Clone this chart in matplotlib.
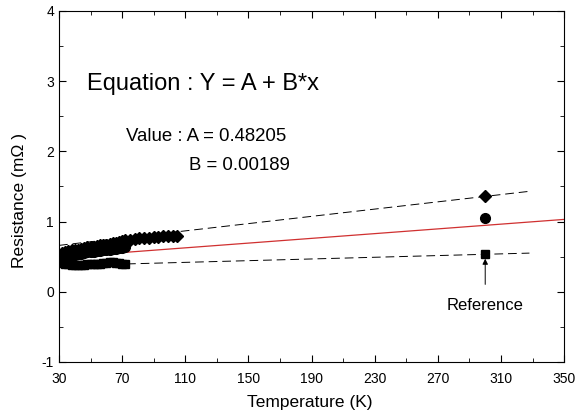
import matplotlib.pyplot as plt

plt.rcParams['font.family'] = ['Liberation Sans', 'DejaVu Sans']
plt.rcParams['axes.unicode_minus'] = False

# diamonds (upper series)
dia_x = [32, 34, 36, 38, 40, 42, 44, 46, 48, 50, 52, 54, 56, 58, 60, 62, 64, 66, 68, 70,
         72, 75, 78, 81, 84, 87, 90, 93, 96, 99, 102, 105, 300]
dia_y = [0.55, 0.57, 0.58, 0.59, 0.60, 0.60, 0.61, 0.62, 0.63, 0.63, 0.64, 0.65, 0.66, 0.66,
         0.67, 0.68, 0.69, 0.70, 0.71, 0.72, 0.73, 0.74, 0.75, 0.76, 0.77, 0.77, 0.78, 0.78,
         0.79, 0.79, 0.80, 0.80, 1.36]

# circles (middle series)
cir_x = [32, 34, 36, 38, 40, 42, 44, 46, 48, 50, 52, 54, 56, 58, 60, 62, 64, 66, 68, 70, 72, 300]
cir_y = [0.50, 0.51, 0.52, 0.52, 0.53, 0.54, 0.54, 0.55, 0.56, 0.56, 0.57, 0.58, 0.58, 0.59,
         0.60, 0.60, 0.61, 0.61, 0.62, 0.62, 0.63, 1.05]

# squares (reference series)
sq_x = [32, 34, 36, 38, 40, 42, 44, 46, 48, 50, 52, 54, 56, 58, 60, 62, 64, 66, 68, 70, 72, 300]
sq_y = [0.41, 0.40, 0.39, 0.38, 0.38, 0.38, 0.38, 0.38, 0.39, 0.39, 0.39, 0.40, 0.40, 0.41,
        0.41, 0.42, 0.42, 0.41, 0.41, 0.40, 0.40, 0.54]

# dashed guide lines and red fit
upper_x = [30, 328]
upper_y = [0.66, 1.43]
lower_x = [30, 328]
lower_y = [0.37, 0.55]
fit_x = [30, 350]
fit_y = [0.49, 1.03]

fig = plt.figure(figsize=(5.84, 4.17), dpi=100)
ax = fig.add_axes([0.101, 0.132, 0.865, 0.842])

ax.plot(upper_x, upper_y, color='black', lw=0.7, dashes=(9, 5))
ax.plot(lower_x, lower_y, color='black', lw=0.7, dashes=(9, 5))
ax.plot(fit_x, fit_y, color='#d03030', lw=0.9)

ax.plot(dia_x, dia_y, 'D', color='black', ms=6, ls='none')
ax.plot(cir_x, cir_y, 'o', color='black', ms=7, ls='none')
ax.plot(sq_x, sq_y, 's', color='black', ms=6, ls='none')

ax.annotate('Reference', xy=(300, 0.47), xytext=(300, -0.2), ha='center', va='center',
            fontsize=12,
            arrowprops=dict(arrowstyle='-|>', color='black', lw=0.7, shrinkA=8, shrinkB=0,
                            mutation_scale=8))

ax.text(48, 2.96, 'Equation : Y = A + B*x', fontsize=17, va='center')
ax.text(72.5, 2.21, 'Value : A = 0.48205', fontsize=13.4, va='center')
ax.text(112.4, 1.80, 'B = 0.00189', fontsize=13.4, va='center')

ax.set_xlim(30, 350)
ax.set_ylim(-1, 4)
ax.set_xticks(range(30, 351, 40))
ax.set_xticks(range(30, 351, 20), minor=True)
ax.set_yticks(range(-1, 5))
ax.set_yticks([-0.5, 0.5, 1.5, 2.5, 3.5], minor=True)
ax.tick_params(which='both', direction='in', top=True, right=True, labelsize=10)
ax.tick_params(which='major', length=5)
ax.tick_params(which='minor', length=3)
ax.tick_params(axis='x', pad=7)

ax.set_xlabel('Temperature (K)', fontsize=12.5)
ax.set_ylabel('Resistance (m\u03a9 )', fontsize=12.5)
ax.xaxis.set_label_coords(0.497, -0.094)
ax.yaxis.set_label_coords(-0.063, 0.46)

fig.savefig('out.png', dpi=100)
